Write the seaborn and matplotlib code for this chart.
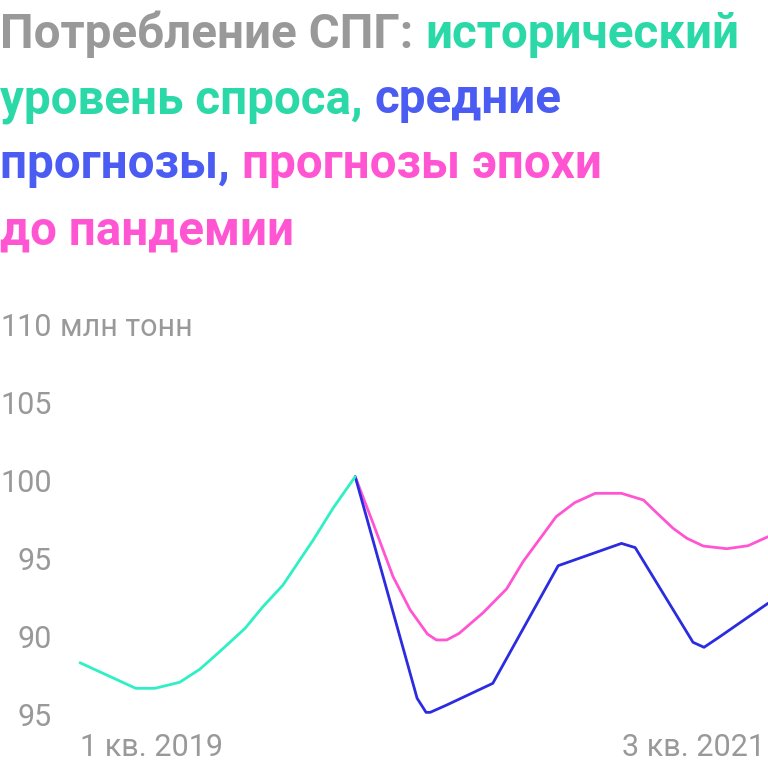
import pandas as pd
import seaborn as sns
import matplotlib.pyplot as plt

# x positions in quarters since 1 кв. 2019 (0 = 1Q2019, 10 = 3Q2021)
hist_x = [0, 0.81, 1.09, 1.45, 1.74, 2.03, 2.40, 2.66, 2.95, 3.39, 3.68, 4.0]
hist_y = [88.35, 86.71, 86.71, 87.1, 87.93, 89.06, 90.56, 91.95, 93.33, 96.22, 98.27, 100.28]

avg_x = [4.0, 4.9, 5.03, 5.09, 5.33, 6.0, 6.95, 7.87, 8.07, 8.91, 9.07, 9.3, 10.0]
avg_y = [100.28, 86.07, 85.17, 85.17, 85.64, 87.03, 94.57, 96.0, 95.73, 89.66, 89.34, 90.02, 92.16]

pre_x = [4.0, 4.26, 4.55, 4.80, 5.05, 5.18, 5.33, 5.51, 5.86, 6.2, 6.44, 6.92, 7.19,
         7.49, 7.87, 8.19, 8.38, 8.62, 8.82, 9.06, 9.4, 9.71, 10.0]
pre_y = [100.28, 97.29, 93.87, 91.73, 90.19, 89.81, 89.81, 90.23, 91.56, 93.08, 94.83, 97.71, 98.61,
         99.21, 99.21, 98.78, 97.97, 96.97, 96.33, 95.83, 95.66, 95.85, 96.43]

y_ticks = [85, 90, 95, 100, 105, 110]
y_labels = ['95', '90', '95', '100', '105', '110']
x_labels = ['1 кв. 2019', '3 кв. 2021']

GRAY = '#999999'
TEAL_TXT, TEAL = '#2BD9A8', '#2EF0C4'
BLUE_TXT, BLUE = '#4B5CF2', '#2B2BE0'
PINK = '#FF55D2'

sns.set_theme(style='white')
plt.rcParams['font.family'] = ['Roboto', 'DejaVu Sans']

fig = plt.figure(figsize=(7.68, 7.68), dpi=100)
ax = fig.add_axes([80 / 768, 1 - 715 / 768, 1 - 80 / 768, 390 / 768])

df = pd.concat([
    pd.DataFrame({'x': hist_x, 'y': hist_y, 's': 'hist'}),
    pd.DataFrame({'x': avg_x, 'y': avg_y, 's': 'avg'}),
    pd.DataFrame({'x': pre_x, 'y': pre_y, 's': 'pre'}),
])
sns.lineplot(data=df, x='x', y='y', hue='s', palette={'hist': TEAL, 'avg': BLUE, 'pre': PINK},
             hue_order=['pre', 'avg', 'hist'], sort=False, estimator=None, linewidth=2,
             legend=False, ax=ax, clip_on=False)

ax.set_xlim(0, 10)
ax.set_ylim(85, 110)
for s in ax.spines.values():
    s.set_visible(False)
ax.set_xlabel('')
ax.set_ylabel('')
ax.set_yticks(y_ticks)
ax.set_yticklabels(y_labels)
ax.tick_params(axis='y', length=0, pad=20, labelsize=22, labelcolor=GRAY)
ax.set_xticks([])
ax.annotate('млн тонн', xy=(-28 / 688, 110), xycoords=ax.get_yaxis_transform(),
            xytext=(8, 0), textcoords='offset pixels', ha='left', va='center_baseline',
            fontsize=22, color=GRAY)
ax.text(0, -0.045, x_labels[0], transform=ax.transAxes, ha='left', va='top', fontsize=22, color=GRAY)
ax.text(0.995, -0.045, x_labels[1], transform=ax.transAxes, ha='right', va='top', fontsize=22, color=GRAY)

# multi-colour title
title_lines = [
    [('Потребление СПГ: ', GRAY), ('исторический', TEAL_TXT)],
    [('уровень спроса, ', TEAL_TXT), ('средние', BLUE_TXT)],
    [('прогнозы, ', BLUE_TXT), ('прогнозы эпохи', PINK)],
    [('до пандемии', PINK)],
]
renderer = fig.canvas.get_renderer()

# fit the first line to ~740 px wide
probe = fig.text(0, 0, 'Потребление СПГ: исторический', fontsize=30, fontweight='bold')
title_size = 30 * 738 / probe.get_window_extent(renderer).width
probe.remove()

baselines = [48, 113, 178, 244]
for parts, base in zip(title_lines, baselines):
    x = 0
    for txt, col in parts:
        t = fig.text(x / 768, 1 - base / 768, txt, ha='left', va='baseline', color=col,
                     fontsize=title_size, fontweight='bold')
        x += t.get_window_extent(renderer).width

fig.savefig('out.png', dpi=100)
